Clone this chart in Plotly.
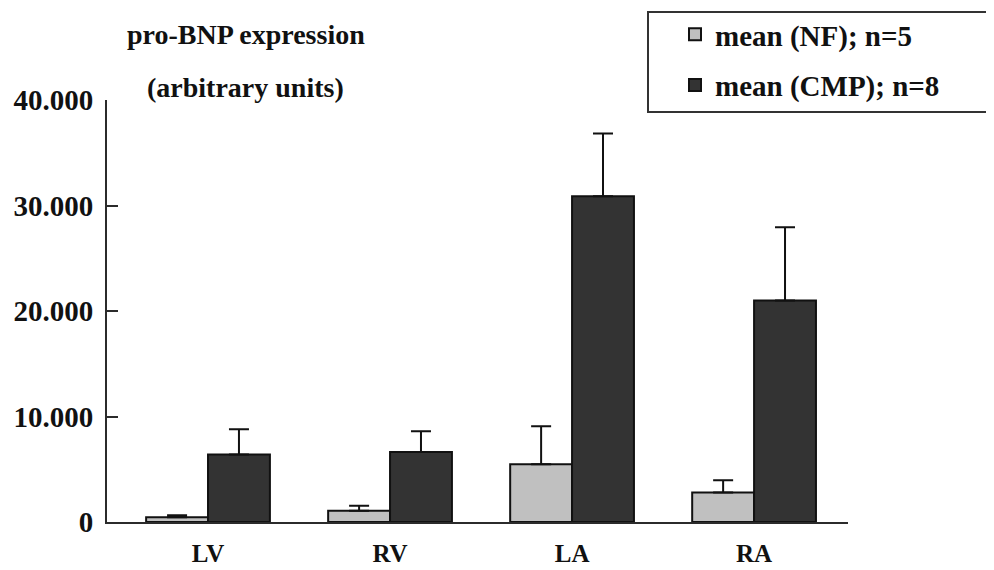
import plotly.graph_objects as go

categories = ["LV", "RV", "LA", "RA"]
nf_mean = [450, 1070, 5470, 2800]
nf_err = [200, 470, 3600, 1160]
cmp_mean = [6400, 6630, 30880, 21000]
cmp_err = [2400, 1980, 5940, 6950]
series_names = ["mean (NF); n=5", "mean (CMP); n=8"]
y_tickvals = [0, 10000, 20000, 30000, 40000]
y_ticktext = ["0", "10.000", "20.000", "30.000", "40.000"]
boundary_ticks = [0.5, 1.5, 2.5]
title_lines = ["pro-BNP expression", "(arbitrary units)"]

FONT = "Liberation Serif"
AX = "#2b2b2b"
W, H = 994, 570
OFF = 8  # the page body adds an 8px margin around the figure
# plot area in screen pixels: x 107..848, y 100..522
L, R = 107 - OFF, W - (848 - OFF)
T, B = 100 - OFF, H - (522 - OFF)
PW, PH = W - L - R, H - T - B


def px_x(px):
    return (px - OFF - L) / PW


def px_y(py):
    return (H - B - (py - OFF)) / PH


fig = go.Figure()
fig.add_trace(go.Bar(
    x=categories, y=nf_mean, name=series_names[0], legendgroup="nf",
    marker=dict(color="#c0c0c0", line=dict(color="#111111", width=2)),
    error_y=dict(type="data", symmetric=False, array=nf_err,
                 arrayminus=[0] * len(nf_err), color="#111111", thickness=2, width=10),
))
fig.add_trace(go.Bar(
    x=categories, y=cmp_mean, name=series_names[1], legendgroup="cmp",
    marker=dict(color="#333333", line=dict(color="#111111", width=2)),
    error_y=dict(type="data", symmetric=False, array=cmp_err,
                 arrayminus=[0] * len(cmp_err), color="#111111", thickness=2, width=10),
))

xr = [-0.555, 3.516]
fig.update_layout(
    width=W, height=H,
    margin=dict(l=L, r=R, t=T, b=B, autoexpand=False),
    paper_bgcolor="white", plot_bgcolor="white",
    barmode="group", bargap=0.32, bargroupgap=0,
    font=dict(family=FONT, size=26, color="#111111", weight="bold"),
    xaxis=dict(
        type="category", range=xr, showgrid=False, zeroline=False, automargin=False,
        showline=True, linecolor=AX, linewidth=2, ticks="",
        tickfont=dict(family=FONT, size=25, weight="bold"),
        ticklabelstandoff=8,
    ),
    xaxis2=dict(
        overlaying="x", anchor="y", side="bottom", range=xr, type="linear",
        tickmode="array", tickvals=boundary_ticks, ticks="outside", ticklen=8,
        tickwidth=2, tickcolor=AX, showticklabels=False, showgrid=False,
        zeroline=False, showline=False, automargin=False,
    ),
    yaxis=dict(
        range=[0, 40000], tickmode="array", tickvals=y_tickvals, ticktext=y_ticktext,
        ticks="inside", ticklen=11, tickwidth=2, tickcolor=AX, automargin=False,
        showline=True, linecolor=AX, linewidth=2, showgrid=False, zeroline=False,
        tickfont=dict(family=FONT, size=29, weight="bold"),
        ticklabelstandoff=6,
    ),
    legend=dict(
        x=px_x(675), y=px_y(9), xanchor="left", yanchor="top",
        borderwidth=0, bgcolor="rgba(0,0,0,0)",
        font=dict(family=FONT, size=29, weight="bold"),
        traceorder="grouped", tracegroupgap=10, itemwidth=30,
    ),
    showlegend=True,
)
# legend frame
fig.add_shape(type="rect", xref="paper", yref="paper",
              x0=px_x(648), x1=px_x(992), y0=px_y(112), y1=px_y(12),
              line=dict(color="#333333", width=2), layer="above")
fig.add_annotation(text=title_lines[0], xref="paper", yref="paper",
                   x=px_x(246), y=px_y(35), xanchor="center", yanchor="middle",
                   showarrow=False, font=dict(family=FONT, size=28, weight="bold"))
fig.add_annotation(text=title_lines[1], xref="paper", yref="paper",
                   x=px_x(245), y=px_y(88), xanchor="center", yanchor="middle",
                   showarrow=False, font=dict(family=FONT, size=28, weight="bold"))

fig.write_html("out.html")
